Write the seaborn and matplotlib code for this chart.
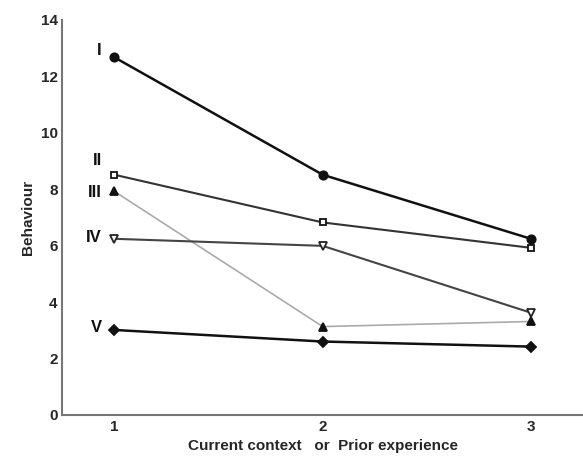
import matplotlib
matplotlib.use("Agg")
import matplotlib.pyplot as plt
import seaborn as sns
import pandas as pd

x_vals = [1, 2, 3]
series_I = [12.67, 8.51, 6.24]
series_II = [8.51, 6.82, 5.92]
series_III = [7.92, 3.13, 3.31]
series_IV = [6.24, 5.99, 3.62]
series_V = [3.01, 2.60, 2.42]
labels = ["I", "II", "III", "IV", "V"]
xticks = [1, 2, 3]
yticks = [0, 2, 4, 6, 8, 10, 12, 14]

sns.set_style("white")
plt.rcParams['font.family'] = ['Liberation Sans', 'DejaVu Sans']

fig = plt.figure(figsize=(5.83, 4.61), dpi=100)
ax = fig.add_axes([0.107, 0.10, 0.893, 0.857])

styles = [
    dict(color="#111111", lw=1.8, marker="o", ms=6, mfc="#111111"),
    dict(color="#333333", lw=1.5, marker="s", ms=4.5, mfc="white"),
    dict(color="#aaaaaa", lw=1.2, marker="^", ms=6, mfc="#111111", mec="#111111"),
    dict(color="#444444", lw=1.5, marker="v", ms=6, mfc="white", mec="#222222"),
    dict(color="#111111", lw=1.8, marker="D", ms=5, mfc="#111111"),
]
all_series = [series_I, series_II, series_III, series_IV, series_V]
label_offsets = [0.25, 0.5, -0.05, 0.05, 0.1]
for s, st, lab, off in zip(all_series, styles, labels, label_offsets):
    df = pd.DataFrame({"x": x_vals, "y": s})
    sns.lineplot(data=df, x="x", y="y", ax=ax, color=st["color"], lw=st["lw"],
                 marker=st["marker"], markersize=st["ms"],
                 markerfacecolor=st["mfc"], markeredgecolor=st.get("mec", "#111111"),
                 markeredgewidth=1.3)
    ax.text(x_vals[0] - 0.06, s[0] + off, lab, ha="right", va="center",
            fontsize=12, fontweight="bold", color="#111111")

ax.set_xlim(0.75, 3.25)
ax.set_ylim(0, 14)
ax.set_xticks(xticks)
ax.set_yticks(yticks)
ax.tick_params(direction="in", length=4, width=1, color="#666666",
               labelsize=11)
for lab in ax.get_xticklabels() + ax.get_yticklabels():
    lab.set_fontweight("bold")
ax.set_xlabel("Current context   or  Prior experience", fontsize=11, fontweight="bold")
ax.set_ylabel("Behaviour", fontsize=11, fontweight="bold")
sns.despine(ax=ax)
for sp in ["left", "bottom"]:
    ax.spines[sp].set_color("#777777")
    ax.spines[sp].set_linewidth(1.5)

fig.savefig("out.png", dpi=100)
